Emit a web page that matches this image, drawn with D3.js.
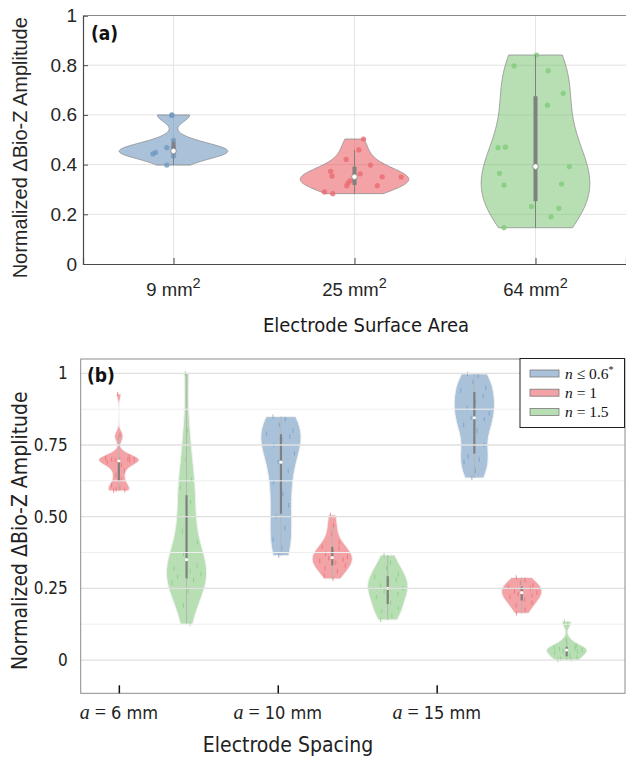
<!DOCTYPE html>
<html>
<head>
<meta charset="utf-8">
<script src="https://cdn.jsdelivr.net/npm/d3@7"></script>
<style>
  body { margin: 0; background: #fff; }
  svg { display: block; }
</style>
</head>
<body>
<svg id="chart" width="626" height="758"></svg>
<script>
// ---------- panel (a): surface area ----------
const areaLabels = ["9", "25", "64"];            // mm^2
const areaPos = [1, 2, 3];
const area9 = [0.600, 0.598, 0.498, 0.470, 0.468, 0.455, 0.452, 0.449, 0.443, 0.435, 0.398];
const area9Jit = [-0.009, -0.009, 0, 0, -0.037, 0, 0, -0.099, -0.114, 0, -0.037];
const area25 = [0.503, 0.459, 0.421, 0.398, 0.373, 0.354, 0.363, 0.351, 0.350, 0.335, 0.327, 0.315, 0.315, 0.290, 0.283];
const area25Jit = [0.05, 0.024, -0.046, 0.088, -0.132, -0.124, 0.031, 0.153, 0.258, -0.024, -0.035, -0.043, 0.126, -0.166, -0.12];
const area64 = [0.841, 0.797, 0.778, 0.687, 0.639, 0.470, 0.468, 0.392, 0.365, 0.322, 0.318, 0.231, 0.224, 0.190, 0.146];
const area64Jit = [0.006, -0.118, 0.070, 0.153, 0.066, -0.166, -0.207, 0.187, -0.199, 0.144, -0.174, -0.022, 0.129, 0.086, -0.174];
const areaBw = [0.027, 0.035, 0.15];
const areaTicks = [0, 0.2, 0.4, 0.6, 0.8, 1];

// ---------- panel (b): spacing ----------
const spacingLabels = ["6", "10", "15"];         // mm
const spacingTickPos = [1, 2, 3];
const seriesNames = ["n ≤ 0.6", "n = 1", "n = 1.5"];
const sp6n1 = [0.928, 0.785, 0.775, 0.71, 0.705, 0.70, 0.70, 0.70, 0.70, 0.698, 0.695, 0.69, 0.68, 0.66, 0.645, 0.63, 0.61, 0.60, 0.595, 0.592, 0.59];
const sp6n15 = [1.0, 0.80, 0.70, 0.63, 0.60, 0.55, 0.50, 0.45, 0.41, 0.37, 0.33, 0.32, 0.31, 0.30, 0.29, 0.28, 0.27, 0.24, 0.19, 0.125];
const sp10n06 = [0.849, 0.84, 0.82, 0.80, 0.79, 0.78, 0.77, 0.75, 0.72, 0.69, 0.66, 0.62, 0.58, 0.54, 0.50, 0.46, 0.42, 0.39, 0.364];
const sp10n1 = [0.506, 0.47, 0.44, 0.41, 0.395, 0.39, 0.38, 0.37, 0.36, 0.355, 0.35, 0.345, 0.34, 0.33, 0.32, 0.31, 0.295, 0.283];
const sp10n15 = [0.366, 0.34, 0.32, 0.30, 0.29, 0.28, 0.27, 0.26, 0.25, 0.24, 0.23, 0.22, 0.20, 0.18, 0.17, 0.155, 0.14];
const sp15n06 = [0.998, 0.99, 0.97, 0.95, 0.94, 0.92, 0.90, 0.88, 0.86, 0.845, 0.84, 0.82, 0.80, 0.75, 0.71, 0.70, 0.69, 0.66, 0.635];
const sp15n1 = [0.288, 0.28, 0.27, 0.26, 0.255, 0.25, 0.245, 0.24, 0.235, 0.23, 0.225, 0.22, 0.21, 0.20, 0.19, 0.175, 0.163];
const sp15n15 = [0.134, 0.128, 0.07, 0.05, 0.045, 0.042, 0.04, 0.038, 0.035, 0.032, 0.03, 0.025, 0.015, 0.008, 0.004, 0.002, 0.0];
const spacingSets = [sp6n1, sp6n15, sp10n06, sp10n1, sp10n15, sp15n06, sp15n1, sp15n15];
const spacingSeries = [1, 2, 0, 1, 2, 0, 1, 2];
const spacingPos = [1.0, 1.426, 2.02, 2.343, 2.692, 3.237, 3.535, 3.818];
const spacingBw = [0.018, 0.08, 0.07, 0.028, 0.038, 0.055, 0.028, 0.016];
const spacingTicks = [0, 0.25, 0.5, 0.75, 1];
const spacingTickText = ["0", "0.25", "0.50", "0.75", "1"];
// fixed horizontal placement of the dash markers, as a fraction of local violin width
const dashJitter = [-0.6, 0.3, -0.1, 0.7, -0.8, 0.5, 0.05, -0.4, 0.85, -0.2, 0.6, -0.7, 0.2, 0.8, -0.5, 0.4, -0.85, 0.1, -0.3, 0.65];

// colours (blue / red / green)
const fills = ["#5384b3", "#e7454b", "#6fbf67"];
const dots = ["#6f98c2", "#eb6a72", "#7fcc79"];

const SANS = "'Liberation Sans', Arial, sans-serif";
const NARROW = "'Liberation Sans Narrow', 'DejaVu Sans Condensed', 'Roboto Condensed', sans-serif";
const SERIF = "'Liberation Serif', 'DejaVu Serif', serif";

const svg = d3.select("#chart");

// matlab-like prctile
function prctile(sorted, p) {
  const n = sorted.length;
  const pos = n * p + 0.5;
  if (pos <= 1) return sorted[0];
  if (pos >= n) return sorted[n - 1];
  const lo = Math.floor(pos), f = pos - lo;
  return sorted[lo - 1] + f * (sorted[lo] - sorted[lo - 1]);
}

// gaussian kernel density, evaluated between min and max only (truncated violin)
function kde(values, bw) {
  const lo = d3.min(values), hi = d3.max(values);
  return d3.range(100).map(i => {
    const v = lo + (hi - lo) * i / 99;
    return [v, d3.mean(values, d => Math.exp(-0.5 * ((v - d) / bw) ** 2))];
  });
}

function boxStats(values) {
  const s = values.slice().sort(d3.ascending);
  const q1 = prctile(s, 0.25), med = prctile(s, 0.5), q3 = prctile(s, 0.75);
  const iqr = q3 - q1;
  const lo = d3.min(s.filter(v => v >= q1 - 1.5 * iqr));
  const hi = d3.max(s.filter(v => v <= q3 + 1.5 * iqr));
  return {q1, med, q3, lo, hi};
}

/**
 * Draw one violin with its scatter, whisker, box and median
 */
function violin(g, x, y, o) {
  const dens = kde(o.values, o.bw);
  const dmax = d3.max(dens, d => d[1]);
  const halfAt = v => {
    const i = d3.bisector(d => d[0]).center(dens, v);
    return o.width * dens[i][1] / dmax;
  };

  const area = d3.area()
    .y(d => y(d[0]))
    .x0(d => x(o.pos - o.width * d[1] / dmax))
    .x1(d => x(o.pos + o.width * d[1] / dmax));

  g.append("path")
    .datum(dens)
    .attr("d", area)
    .attr("fill", o.fill)
    .attr("fill-opacity", 0.5)
    .attr("stroke", o.edge)
    .attr("stroke-width", o.edgeWidth);

  if (o.dash) {
    g.selectAll(null)
      .data(o.values)
      .enter().append("line")
      .attr("x1", (v, i) => x(o.pos + dashJitter[i % dashJitter.length] * halfAt(v) * 0.9))
      .attr("x2", (v, i) => x(o.pos + dashJitter[i % dashJitter.length] * halfAt(v) * 0.9))
      .attr("y1", v => y(v) - 2.2)
      .attr("y2", v => y(v) + 2.2)
      .attr("stroke", o.dot)
      .attr("stroke-opacity", 0.7)
      .attr("stroke-width", 1);
  } else {
    g.selectAll(null)
      .data(o.values)
      .enter().append("circle")
      .attr("cx", (v, i) => x(o.pos + o.jit[i]))
      .attr("cy", v => y(v))
      .attr("r", 2.6)
      .attr("fill", o.dot)
      .attr("fill-opacity", 0.8);
  }

  const st = boxStats(o.values);
  g.append("line")
    .attr("x1", x(o.pos)).attr("x2", x(o.pos))
    .attr("y1", y(st.lo)).attr("y2", y(st.hi))
    .attr("stroke", o.whisker)
    .attr("stroke-width", 1);
  g.append("rect")
    .attr("x", x(o.pos) - o.boxW / 2)
    .attr("width", o.boxW)
    .attr("y", y(st.q3))
    .attr("height", y(st.q1) - y(st.q3))
    .attr("fill", "#808080");
  g.append("circle")
    .attr("cx", x(o.pos))
    .attr("cy", y(st.med))
    .attr("r", o.medR)
    .attr("fill", "#fff")
    .attr("stroke", o.medStroke ? "#808080" : "none")
    .attr("stroke-width", 0.8);
}

// =============== panel (a) ===============
const xA = d3.scaleLinear().domain([0.5, 3.5]).range([83, 626]);
const yA = d3.scaleLinear().domain([0, 1]).range([264, 15.5]);
const gA = svg.append("g");

// grid
gA.selectAll(null).data(areaTicks.slice(1)).enter().append("line")
  .attr("x1", xA(0.5)).attr("x2", xA(3.5))
  .attr("y1", d => yA(d)).attr("y2", d => yA(d))
  .attr("stroke", "#e3e3e3").attr("stroke-width", 1);
gA.selectAll(null).data(areaPos).enter().append("line")
  .attr("x1", d => xA(d)).attr("x2", d => xA(d))
  .attr("y1", yA(0)).attr("y2", yA(1))
  .attr("stroke", "#e3e3e3").attr("stroke-width", 1);

[[area9, area9Jit], [area25, area25Jit], [area64, area64Jit]].forEach((s, i) => {
  violin(gA, xA, yA, {
    pos: areaPos[i], values: s[0], jit: s[1], bw: areaBw[i],
    width: 0.3, fill: fills[i], dot: dots[i], edge: "#8f8f8f", edgeWidth: 0.8,
    whisker: "#808080", boxW: 4, medR: 2.8, medStroke: true, dash: false
  });
});

// axes (matlab box: ticks inward)
const axA = gA.append("g").attr("transform", `translate(${xA(0.5)},0)`)
  .call(d3.axisLeft(yA).tickValues(areaTicks).tickSize(-5).tickPadding(6)
    .tickFormat(d => d === 0 || d === 1 ? d : d.toFixed(1)));
axA.select(".domain").attr("stroke", "#4a4a4a").attr("stroke-width", 1.2);
axA.selectAll(".tick line").attr("stroke", "#4a4a4a");
axA.selectAll("text").attr("font-family", SANS).attr("font-size", 19).attr("fill", "#262626");

const axAb = gA.append("g").attr("transform", `translate(0,${yA(0)})`)
  .call(d3.axisBottom(xA).tickValues(areaPos).tickSize(-6).tickFormat(""));
axAb.select(".domain").attr("stroke", "#4a4a4a").attr("stroke-width", 1.2);
axAb.selectAll(".tick line").attr("stroke", "#4a4a4a");

gA.append("line").attr("x1", xA(0.5)).attr("x2", xA(3.5))
  .attr("y1", yA(1)).attr("y2", yA(1)).attr("stroke", "#8a8a8a");

areaPos.forEach((p, i) => {
  const t = gA.append("text").attr("x", xA(p)).attr("y", 296)
    .attr("text-anchor", "middle").attr("font-family", SANS)
    .attr("font-size", 18.5).attr("fill", "#262626");
  t.append("tspan").text(areaLabels[i] + " mm");
  t.append("tspan").attr("dy", -8).attr("font-size", 14.5).text("2");
});

gA.append("text").attr("x", 366).attr("y", 332).attr("text-anchor", "middle")
  .attr("font-family", NARROW).attr("font-size", 20).attr("fill", "#1a1a1a")
  .text("Electrode Surface Area");
gA.append("text").attr("transform", `translate(27,${(yA(0) + yA(1)) / 2 + 8}) rotate(-90)`)
  .attr("text-anchor", "middle").attr("font-family", SANS).attr("font-size", 20)
  .attr("fill", "#262626").text("Normalized ΔBio-Z Amplitude");
gA.append("text").attr("x", 91).attr("y", 40).attr("font-family", NARROW)
  .attr("font-weight", "bold").attr("font-size", 19).attr("fill", "#111").text("(a)");

// =============== panel (b) ===============
const xB = d3.scaleLinear().domain([0.76, 4.185]).range([80.7, 625]);
const yB = d3.scaleLinear().domain([-0.116, 1.05]).range([693.3, 359]);
const gB = svg.append("g");

spacingSets.forEach((vals, i) => {
  const s = spacingSeries[i];
  violin(gB, xB, yB, {
    pos: spacingPos[i], values: vals, bw: spacingBw[i],
    width: 0.126, fill: fills[s], dot: dots[s], edge: "#f2f2f2", edgeWidth: 1,
    whisker: "#b5b5b5", boxW: 2.2, medR: 1.6, medStroke: false, dash: true
  });
});

// grid on top of the violins (major + minor)
const minorB = spacingTicks.slice(0, -1).map(d => d + 0.125);
gB.selectAll(null).data(minorB).enter().append("line")
  .attr("x1", xB.range()[0]).attr("x2", xB.range()[1])
  .attr("y1", d => yB(d)).attr("y2", d => yB(d))
  .attr("stroke", "#efefef").attr("stroke-width", 1);
gB.selectAll(null).data(spacingTicks).enter().append("line")
  .attr("x1", xB.range()[0]).attr("x2", xB.range()[1])
  .attr("y1", d => yB(d)).attr("y2", d => yB(d))
  .attr("stroke", "#e0e0e0").attr("stroke-width", 1.3);

// frame
gB.append("rect").attr("x", 80.7).attr("y", 359).attr("width", 625 - 80.7).attr("height", 693.3 - 359)
  .attr("fill", "none").attr("stroke", "#8c8c8c").attr("stroke-width", 1);

const axBb = gB.append("g").attr("transform", `translate(0,${yB.range()[0]})`)
  .call(d3.axisBottom(xB).tickValues(spacingTickPos).tickSize(-8).tickFormat(""));
axBb.select(".domain").remove();
axBb.selectAll(".tick line").attr("stroke", "#111").attr("stroke-width", 1.5);

const axBl = gB.append("g").attr("transform", `translate(${xB.range()[0]},0)`)
  .call(d3.axisLeft(yB).tickValues(spacingTicks).tickSize(0).tickPadding(13)
    .tickFormat((d, i) => spacingTickText[i]));
axBl.select(".domain").remove();
axBl.selectAll("text").attr("font-family", NARROW).attr("font-size", 17).attr("fill", "#222");

spacingTickPos.forEach((p, i) => {
  const t = gB.append("text").attr("x", xB(p)).attr("y", 719)
    .attr("text-anchor", "middle").attr("font-size", 18).attr("fill", "#222");
  t.append("tspan").attr("font-family", SERIF).attr("font-style", "italic").attr("font-size", 20).text("a");
  t.append("tspan").attr("font-family", SERIF).attr("font-size", 20).text(" = ");
  t.append("tspan").attr("font-family", NARROW).text(spacingLabels[i] + " mm");
});

gB.append("text").attr("x", 288).attr("y", 752).attr("text-anchor", "middle")
  .attr("font-family", NARROW).attr("font-size", 21).attr("fill", "#222")
  .text("Electrode Spacing");
gB.append("text").attr("transform", `translate(27,${(yB(0) + yB(1)) / 2 + 14}) rotate(-90)`)
  .attr("text-anchor", "middle").attr("font-family", NARROW).attr("font-size", 21)
  .attr("fill", "#222").text("Normalized ΔBio-Z Amplitude");
gB.append("text").attr("x", 87).attr("y", 382).attr("font-family", NARROW)
  .attr("font-weight", "bold").attr("font-size", 19).attr("fill", "#111").text("(b)");

// legend
const lg = gB.append("g");
lg.append("rect").attr("x", 520).attr("y", 358.5).attr("width", 104.5).attr("height", 69)
  .attr("fill", "#fff").attr("stroke", "#222").attr("stroke-width", 1);
seriesNames.forEach((name, i) => {
  const cy = 373.5 + i * 19.2;
  lg.append("rect").attr("x", 530).attr("y", cy - 3.5).attr("width", 29).attr("height", 7)
    .attr("fill", fills[i]).attr("fill-opacity", 0.5).attr("stroke", "#7a7a7a").attr("stroke-width", 0.8);
  const t = lg.append("text").attr("x", 565).attr("y", cy + 5)
    .attr("font-family", SERIF).attr("font-size", 15.5).attr("fill", "#111");
  const parts = name.split(" ");
  t.append("tspan").attr("font-style", "italic").text(parts[0]);
  t.append("tspan").text(" " + parts.slice(1).join(" "));
  if (i === 0) t.append("tspan").attr("dy", -6).attr("font-size", 10).text("*");
});
</script>
</body>
</html>
